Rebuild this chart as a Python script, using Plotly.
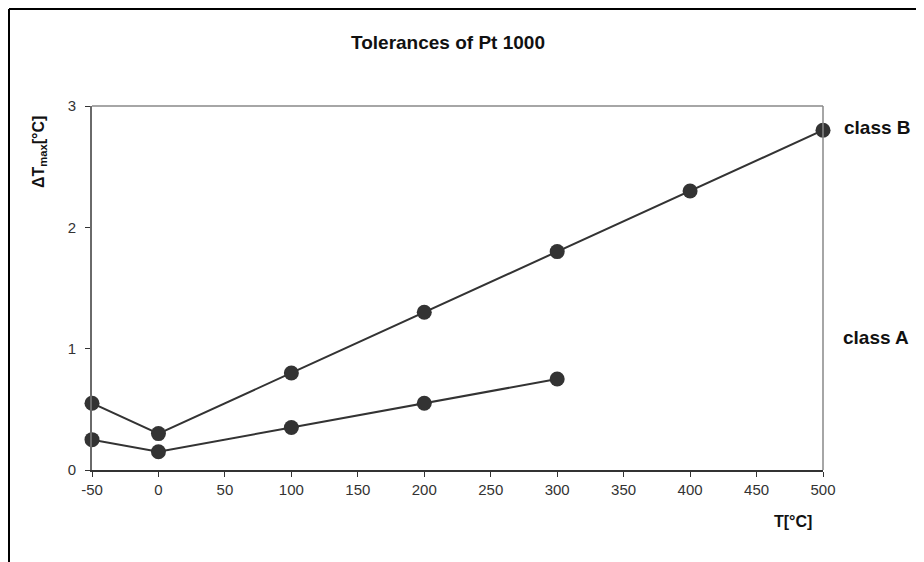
import plotly.graph_objects as go

temps_b = [-50, 0, 100, 200, 300, 400, 500]
tol_b = [0.55, 0.3, 0.8, 1.3, 1.8, 2.3, 2.8]
temps_a = [-50, 0, 100, 200, 300]
tol_a = [0.25, 0.15, 0.35, 0.55, 0.75]
x_ticks = [-50, 0, 50, 100, 150, 200, 250, 300, 350, 400, 450, 500]
y_ticks = [0, 1, 2, 3]

OFF = 8  # browser body margin
W, H = 924 - OFF, 562 - OFF
L, R, T, B = 92 - OFF, 823 - OFF, 106 - OFF, 470 - OFF

def px(x):
    return (x - OFF - L) / (R - L)

def py(y):
    return (B - (y - OFF)) / (B - T)

fig = go.Figure()
for xs, ys, name in [(temps_b, tol_b, "class B"), (temps_a, tol_a, "class A")]:
    fig.add_trace(go.Scatter(
        x=xs, y=ys, mode="lines+markers", name=name,
        line=dict(color="#333333", width=2),
        marker=dict(color="#333333", size=15),
        cliponaxis=False, showlegend=False,
    ))

font = "Liberation Sans, Arial, sans-serif"

def ann(text, x, y, size, xanchor="center", angle=0):
    return dict(text=text, xref="paper", yref="paper", x=px(x), y=py(y),
                xanchor=xanchor, yanchor="middle", textangle=angle,
                showarrow=False, font=dict(size=size, color="#111111"))

fig.update_layout(
    width=W, height=H,
    margin=dict(l=L, r=W - R, t=T, b=H - B),
    paper_bgcolor="white", plot_bgcolor="white",
    font=dict(family=font, size=15, color="#333333"),
    xaxis=dict(range=[-50, 500], tickvals=x_ticks, ticktext=[str(v) for v in x_ticks],
               ticks="outside", ticklen=5,
               tickcolor="#333333", showgrid=False, zeroline=False,
               showline=True, linecolor="#333333", linewidth=2),
    yaxis=dict(range=[0, 3], tickvals=y_ticks, ticks="outside", ticklen=5,
               ticklabelstandoff=6,
               tickcolor="#333333", showgrid=False, zeroline=False,
               showline=True, linecolor="#6a6a6a", linewidth=2),
    shapes=[
        dict(type="line", xref="paper", yref="paper", x0=0, x1=1, y0=1, y1=1,
             line=dict(color="#888888", width=1.5)),
        dict(type="line", xref="paper", yref="paper", x0=1, x1=1, y0=0, y1=1,
             line=dict(color="#888888", width=1.5)),
        dict(type="line", xref="paper", yref="paper", x0=px(OFF + 1), x1=px(OFF + 1),
             y0=py(OFF + 1), y1=py(600), line=dict(color="#000000", width=2)),
        dict(type="line", xref="paper", yref="paper", x0=px(OFF + 1), x1=px(960),
             y0=py(OFF + 1), y1=py(OFF + 1), line=dict(color="#000000", width=2)),
    ],
    annotations=[
        ann("<b>Tolerances of Pt 1000</b>", 448, 43, 19),
        ann("<b>ΔT<sub>max</sub>[°C]</b>", 39, 152, 16, angle=-90),
        ann("<b>T[°C]</b>", 793, 521, 16),
        ann("<b>class B</b>", 842, 127, 19, xanchor="left"),
        ann("<b>class A</b>", 841, 337, 19, xanchor="left"),
    ],
)

fig.write_html("out.html")
